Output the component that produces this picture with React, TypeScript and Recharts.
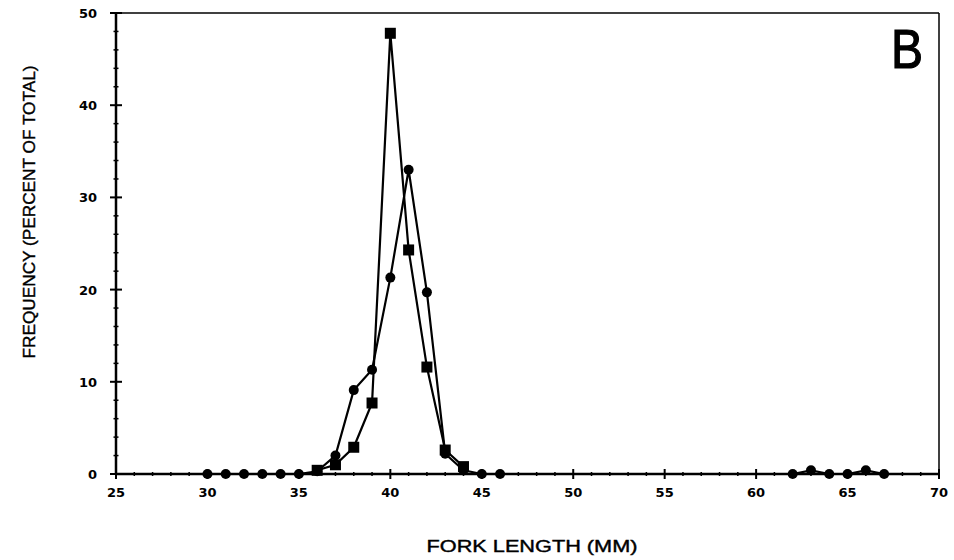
import React from "react";
import { LineChart, Line, XAxis, YAxis, ReferenceLine } from "recharts";

const forkLengths = [30, 31, 32, 33, 34, 35, 36, 37, 38, 39, 40, 41, 42, 43, 44, 45, 46, 62, 63, 64, 65, 66, 67];
const circlePct = [0, 0, 0, 0, 0, 0, 0.3, 2.0, 9.1, 11.3, 21.3, 33.0, 19.7, 2.2, 0.4, 0, 0, 0, 0.4, 0, 0, 0.4, 0];
const squarePct = [null, null, null, null, null, null, 0.4, 1.0, 2.9, 7.7, 47.8, 24.3, 11.6, 2.6, 0.8, null, null, null, null, null, null, null, null];

const xTicks = [25, 26, 27, 28, 29, 30, 31, 32, 33, 34, 35, 36, 37, 38, 39, 40, 41, 42, 43, 44, 45, 46, 47, 48, 49, 50, 51, 52, 53, 54, 55, 56, 57, 58, 59, 60, 61, 62, 63, 64, 65, 66, 67, 68, 69, 70];
const yTicks = [0, 2, 4, 6, 8, 10, 12, 14, 16, 18, 20, 22, 24, 26, 28, 30, 32, 34, 36, 38, 40, 42, 44, 46, 48, 50];

const xTitle = "FORK LENGTH (MM)";
const yTitle = "FREQUENCY (PERCENT OF TOTAL)";
const panelLetter = "B";

const data = forkLengths.map((len, i) => ({ len, circle: circlePct[i], square: squarePct[i] }));

const FONT = "'Liberation Sans', Arial, sans-serif";
const TICKFONT = "'DejaVu Sans', sans-serif";

const XTick = (props: any) => {
  const { x, y, payload } = props;
  const v = payload.value;
  const major = v % 5 === 0;
  return (
    <g>
      <line x1={x} x2={x} y1={major ? y - 5 : y - 2} y2={major ? y + 5 : y + 2} stroke="#000" strokeWidth={major ? 2 : 1.5} />
      {major && (
        <text x={x} y={y + 23} textAnchor="middle" fontFamily={TICKFONT} fontWeight="bold" fontSize={13} fill="#000">
          {v}
        </text>
      )}
    </g>
  );
};

const YTick = (props: any) => {
  const { x, y, payload } = props;
  const v = payload.value;
  const major = v % 10 === 0;
  return (
    <g>
      <line x1={major ? x - 6 : x - 2.5} x2={major ? x + 6 : x + 2.5} y1={y} y2={y} stroke="#000" strokeWidth={major ? 2 : 1.5} />
      {major && (
        <text x={x - 19} y={y + 5} textAnchor="end" fontFamily={TICKFONT} fontWeight="bold" fontSize={13} fill="#000">
          {v}
        </text>
      )}
    </g>
  );
};

const SquareDot = (p: any) => {
  if (p.cx == null || p.cy == null || p.value == null || (Array.isArray(p.value) && p.value[1] == null)) {
    return <g key={`sq-${p.index}`} />;
  }
  return <rect key={`sq-${p.index}`} x={p.cx - 5.5} y={p.cy - 5.5} width={11} height={11} fill="#000" />;
};

export default function App() {
  return (
    <div style={{ position: "absolute", left: 0, top: 0, width: 954, height: 560, background: "#fff" }}>
      <LineChart width={954} height={560} data={data} margin={{ top: 13, right: 15, left: 0, bottom: 0 }}>
        <XAxis
          dataKey="len"
          type="number"
          domain={[25, 70]}
          ticks={xTicks}
          interval={0}
          tickSize={0}
          tickMargin={0}
          tickLine={false}
          tick={<XTick />}
          height={86}
          axisLine={{ stroke: "#000", strokeWidth: 2.5 }}
          label={{
            content: () => (
              <g>
                <text x={532} y={552} textAnchor="middle" fontFamily={FONT} fontSize={17} fill="#000" stroke="#000" strokeWidth={0.4} textLength={211} lengthAdjust="spacingAndGlyphs">
                  {xTitle}
                </text>
                <text x={907} y={68} textAnchor="middle" fontFamily={FONT} fontSize={56} stroke="#000" strokeWidth={1.2} fill="#000" textLength={32} lengthAdjust="spacingAndGlyphs">
                  {panelLetter}
                </text>
              </g>
            ),
          }}
        />
        <YAxis
          type="number"
          domain={[0, 50]}
          ticks={yTicks}
          interval={0}
          width={116}
          tickSize={0}
          tickMargin={0}
          tickLine={false}
          tick={<YTick />}
          axisLine={{ stroke: "#000", strokeWidth: 2.5 }}
          label={{
            content: () => (
              <text x={29} y={212} transform="rotate(-90 29 212)" textAnchor="middle" dominantBaseline="central" fontFamily={FONT} fontSize={17} fill="#000" stroke="#000" strokeWidth={0.4} textLength={293} lengthAdjust="spacingAndGlyphs">
                {yTitle}
              </text>
            ),
          }}
        />
        <ReferenceLine x={70} stroke="#000" strokeWidth={1.5} ifOverflow="visible" />
        <ReferenceLine y={50} stroke="#000" strokeWidth={1.5} ifOverflow="visible" />
        <Line
          dataKey="circle"
          stroke="#000"
          strokeWidth={2.2}
          isAnimationActive={false}
          connectNulls
          dot={{ r: 5, fill: "#000", stroke: "#000", strokeWidth: 0 }}
          activeDot={false}
        />
        <Line
          dataKey="square"
          stroke="#000"
          strokeWidth={2.2}
          isAnimationActive={false}
          dot={SquareDot}
          activeDot={false}
        />
      </LineChart>
    </div>
  );
}
